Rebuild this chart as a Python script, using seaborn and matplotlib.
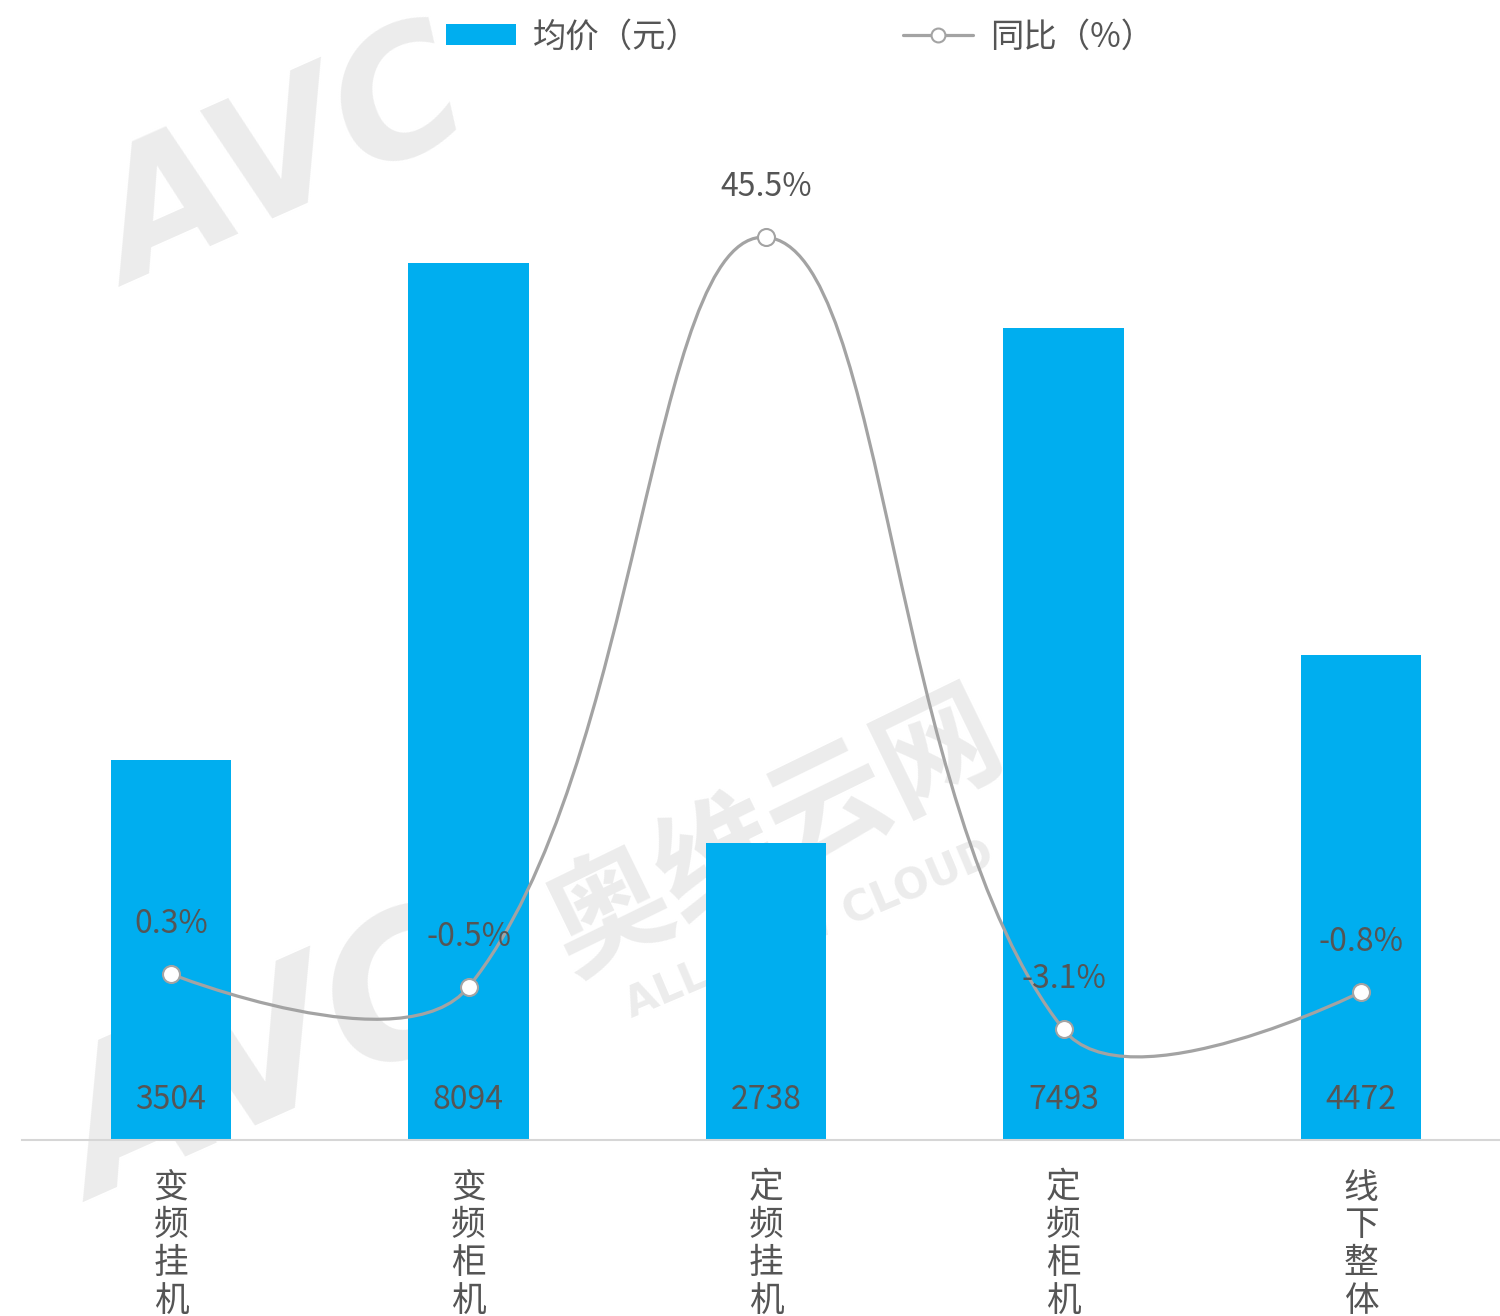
import numpy as np
import pandas as pd
import matplotlib
matplotlib.use('Agg')
import matplotlib.pyplot as plt
import seaborn as sns
from matplotlib.path import Path
from matplotlib.patches import PathPatch, Patch
from matplotlib.lines import Line2D

# ---------------- data ----------------
categories = ['变频挂机', '变频柜机', '定频挂机', '定频柜机', '线下整体']
avg_price = [3504, 8094, 2738, 7493, 4472]
yoy_pct = [0.3, -0.5, 45.5, -3.1, -0.8]
price_labels = ['3504', '8094', '2738', '7493', '4472']
yoy_labels = ['0.3%', '-0.5%', '45.5%', '-3.1%', '-0.8%']
legend_labels = ['均价（元）', '同比（%）']

# ---------------- style ----------------
sns.set_theme(style='white')
plt.rcParams['font.family'] = ['Noto Sans CJK SC', 'DejaVu Sans']
plt.rcParams['axes.unicode_minus'] = False

BAR_C = '#00AEEF'
LINE_C = '#A3A3A3'
TXT_C = '#555555'
WM_C = '#ECECEC'

W, H = 1500, 1316
fig = plt.figure(figsize=(W / 100, H / 100), dpi=100)
fig.patch.set_facecolor('white')

x_left, base_px, top_px = 22.25, 1140, 100
ax = fig.add_axes([x_left / W, (H - base_px) / H, (W - x_left) / W, (base_px - top_px) / H])
ax.patch.set_visible(False)

# ---------------- watermark (behind bars) ----------------
wm_kw = dict(transform=fig.transFigure, color=WM_C, zorder=0.5, clip_on=False,
             ha='center', va='center', family=['DejaVu Sans'], fontweight='bold', style='italic')
ax.text(285 / W, 1 - 165 / H, 'AVC', fontsize=125, rotation=24, **wm_kw)
ax.text(270 / W, 1 - 1065 / H, 'AVC', fontsize=140, rotation=24, **wm_kw)
ax.text(775 / W, 1 - 835 / H, '奥维云网', fontsize=88, rotation=26,
        transform=fig.transFigure, color=WM_C, zorder=0.5, clip_on=False,
        ha='center', va='center', family=['Noto Sans CJK SC'], fontweight='bold')
ax.text(810 / W, 1 - 930 / H, 'ALL VIEW CLOUD', fontsize=30, rotation=23,
        transform=fig.transFigure, color=WM_C, zorder=0.5, clip_on=False,
        ha='center', va='center', family=['DejaVu Sans'], fontweight='bold')

# ---------------- bars ----------------
df = pd.DataFrame({'品类': categories, '均价': avg_price})
sns.barplot(data=df, x='品类', y='均价', color=BAR_C, saturation=1, width=0.405,
            ax=ax, zorder=2, linewidth=0, edgecolor='none')

cat_px = 297.5
ax.set_xlim(-0.5, -0.5 + (W - x_left) / cat_px)
px_per_unit = 877 / 8094
ax.set_ylim(0, (base_px - top_px) / px_per_unit)

for i, lab in enumerate(price_labels):
    ax.annotate(lab, (i, 0), xytext=(0, 29), textcoords='offset points',
                ha='center', va='center', fontsize=23, color=TXT_C, zorder=4)

ax.set_xlabel('')
ax.set_ylabel('')
ax.set_yticks([])
ax.set_xticks(range(len(categories)))
ax.set_xticklabels(['\n'.join(c) for c in categories], fontsize=25, color=TXT_C,
                   linespacing=1.1)
ax.tick_params(axis='x', length=0, pad=22)
for s in ['top', 'left', 'right']:
    ax.spines[s].set_visible(False)
ax.spines['bottom'].set_color('#D6D6D6')
ax.spines['bottom'].set_linewidth(1.5)

# ---------------- line (secondary axis) ----------------
ax2 = ax.twinx()
zero_px, pct_px = 978.9, 16.3
ax2.set_ylim(-(base_px - zero_px) / pct_px, (zero_px - top_px) / pct_px)
ax2.set_yticks([])
for s in ax2.spines.values():
    s.set_visible(False)

xpos = np.arange(len(categories), dtype=float)
pts = ax2.transData.transform(np.column_stack([xpos, yoy_pct]))

smooth = 0.4
verts = [pts[0]]
codes = [Path.MOVETO]
cp0 = pts[0].copy()
n = len(pts)
for i in range(1, n):
    p = pts[i]
    prev = pts[i - 1]
    if i + 1 < n:
        nxt = pts[i + 1]
        v = nxt - prev
        l_prev = np.hypot(*(p - prev))
        l_next = np.hypot(*(nxt - p))
        r = l_next / (l_next + l_prev)
        ncp = p - v * smooth * (1 - r)
    else:
        v = np.zeros(2)
        r = 0.5
        ncp = p.copy()
    verts += [cp0, ncp, p]
    codes += [Path.CURVE4] * 3
    cp0 = p + v * smooth * r

verts_data = ax2.transData.inverted().transform(np.array(verts))
curve = PathPatch(Path(verts_data, codes), facecolor='none', edgecolor=LINE_C,
                  linewidth=2.3, zorder=3, transform=ax2.transData, capstyle='round')
ax2.add_patch(curve)

sns.scatterplot(x=xpos, y=yoy_pct, ax=ax2, s=150, color='white', edgecolor=LINE_C,
                linewidth=1.5, zorder=5, legend=False)

for i, lab in enumerate(yoy_labels):
    ax2.annotate(lab, (xpos[i], yoy_pct[i]), xytext=(0, 36), textcoords='offset points',
                 ha='center', va='center', fontsize=23, color=TXT_C, zorder=6)

# ---------------- legend ----------------
handles = [Patch(facecolor=BAR_C, edgecolor='none'),
           Line2D([0], [0], color=LINE_C, linewidth=2.3, marker='o', markersize=10,
                  markerfacecolor='white', markeredgecolor=LINE_C, markeredgewidth=1.5)]
fig.legend(handles, legend_labels, loc='center', bbox_to_anchor=(800 / W, 1 - 37 / H),
           ncol=2, frameon=False, fontsize=24, handlelength=2.1, handleheight=0.6,
           handletextpad=0.5, columnspacing=6.1, labelcolor=TXT_C)

fig.savefig('out.png', dpi=100, facecolor='white')
